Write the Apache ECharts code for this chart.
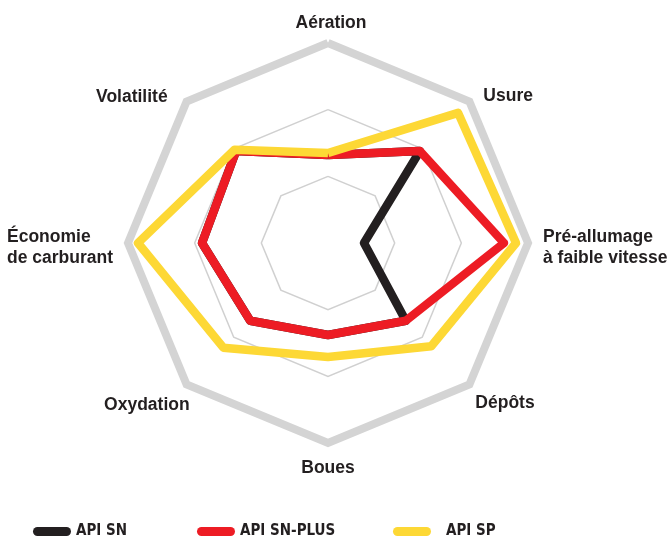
<!DOCTYPE html>
<html>
<head>
<meta charset="utf-8">
<script src="https://cdn.jsdelivr.net/npm/echarts@6/dist/echarts.min.js"></script>
<style>
    html, body { margin: 0; padding: 0; background: #fff; }
    #main { width: 667px; height: 540px; }
</style>
</head>
<body>
<div id="main"></div>
<script>
// axes listed clockwise, starting from the top
var axes = ['Aération', 'Usure', 'Pré-allumage\nà faible vitesse', 'Dépôts', 'Boues', 'Oxydation', 'Économie\nde carburant', 'Volatilité'];
var seriesNames = ['API SN', 'API SN-PLUS', 'API SP'];
var apiSN = [44, 65, 18, 55, 46, 55, 63, 65];
var apiSNPlus = [44, 65, 88, 55, 46, 55, 63, 65];
var apiSP = [45, 92, 94, 73, 57, 74, 95, 66];

var colors = ['#231f20', '#ed1c24', '#fdd835'];
var textColor = '#231f20';
var labelFont = "'Liberation Sans', Arial, sans-serif";
var legendFont = "'Liberation Sans Narrow', 'DejaVu Sans Condensed', sans-serif";

// echarts puts radar indicators anticlockwise, so flip the order
function reorder(arr) {
    return [arr[0]].concat(arr.slice(1).reverse());
}

function nameStyle(extra) {
    var s = {
        fontSize: 17.5,
        fontWeight: 'bold',
        fontFamily: labelFont,
        color: textColor,
        lineHeight: 20
    };
    for (var k in extra) s[k] = extra[k];
    return s;
}

// nudges so names sit where the original put them
var rich = {
    n0: nameStyle({padding: [0, 0, 39, 6]}),
    n1: nameStyle({padding: [0, 0, 24, 21]}),
    m2a: nameStyle({padding: [9, 0, 0, 25], align: 'left', lineHeight: 21}),
    m2b: nameStyle({padding: [9, 0, 0, 25], align: 'left', lineHeight: 21}),
    n3: nameStyle({padding: [51, 0, 0, 13]}),
    n4: nameStyle({padding: [50, 0, 0, 0]}),
    n5: nameStyle({padding: [55, 4, 0, 0]}),
    m6a: nameStyle({padding: [9, 25, 0, 0], align: 'left', lineHeight: 21}),
    m6b: nameStyle({padding: [9, 25, 0, 0], align: 'left', lineHeight: 21}),
    n7: nameStyle({padding: [0, 26, 23, 0]})
};

var indicators = reorder(axes).map(function (n) {
    return {name: n, min: 0, max: 100};
});

var capsule = 'path://M4.5,0 L33.5,0 A4.5,4.5 0 0 1 33.5,9 L4.5,9 A4.5,4.5 0 0 1 4.5,0 Z';
var legendLeft = [33, 197, 393];
var legendPad = [0, 0, 10];

var myChart = echarts.init(document.getElementById('main'));
var option = {
    animation: false,
    backgroundColor: '#fff',
    legend: seriesNames.map(function (n, i) {
        return {
            data: [n],
            left: legendLeft[i],
            top: 524,
            padding: 0,
            icon: capsule,
            itemWidth: 38,
            itemHeight: 9,
            selectedMode: false,
            textStyle: {
                fontSize: 15,
                fontWeight: 'bold',
                fontFamily: legendFont,
                color: textColor,
                padding: [0, 0, 0, legendPad[i]]
            }
        };
    }),
    radar: [{
        center: [328, 243],
        radius: 200,
        startAngle: 90,
        splitNumber: 3,
        shape: 'polygon',
        indicator: indicators,
        axisNameGap: -10,
        axisName: {
            color: textColor,
            fontSize: 17.5,
            fontWeight: 'bold',
            fontFamily: labelFont,
            formatter: function (name) {
                var i = axes.indexOf(name);
                var lines = name.split('\n');
                if (lines.length > 1) {
                    return '{m' + i + 'a|' + lines[0] + '}\n{m' + i + 'b|' + lines[1] + '}';
                }
                return '{n' + i + '|' + name + '}';
            },
            rich: rich
        },
        axisLine: {show: false},
        axisTick: {show: false},
        axisLabel: {show: false},
        splitArea: {show: false},
        splitLine: {lineStyle: {color: '#d0d0d0', width: 1.5}}
    }, {
        // thick outer border
        center: [328, 243],
        radius: 200,
        startAngle: 90,
        splitNumber: 1,
        shape: 'polygon',
        indicator: indicators,
        axisName: {show: false},
        axisLine: {show: false},
        axisTick: {show: false},
        axisLabel: {show: false},
        splitArea: {show: false},
        splitLine: {lineStyle: {color: '#d4d4d4', width: 8}}
    }],
    series: [{
        type: 'radar',
        radarIndex: 0,
        symbol: 'none',
        data: [apiSN, apiSNPlus, apiSP].map(function (v, i) {
            return {
                name: seriesNames[i],
                value: reorder(v),
                itemStyle: {color: colors[i]},
                lineStyle: {color: colors[i], width: 8.5, join: 'round'}
            };
        })
    }]
};
myChart.setOption(option);
</script>
</body>
</html>
